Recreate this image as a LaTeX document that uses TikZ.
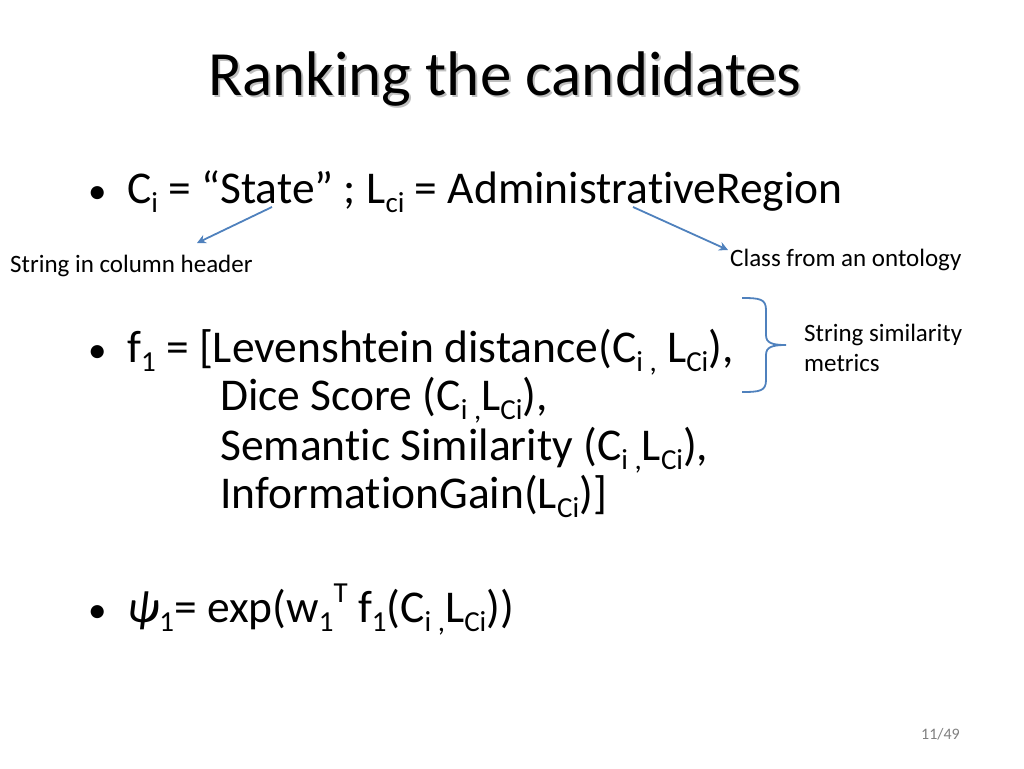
\documentclass[tikz,border=0pt]{standalone}
\usepackage{fontspec}
\usetikzlibrary{arrows.meta}
\setmainfont[Ligatures=CommonOff]{Carlito}
\newcommand{\lsub}[1]{\raisebox{-0.45ex}{\fontsize{29}{29}\selectfont #1}}
\newcommand{\lsup}[1]{\raisebox{0.9ex}{\fontsize{29}{29}\selectfont #1}}
\begin{document}
\begin{tikzpicture}[x=1pt,y=-1pt,
  big/.style={anchor=base west,inner sep=0pt,font=\fontsize{45.5}{48}\selectfont},
  bul/.style={anchor=base west,inner sep=0pt,font=\fontsize{37}{40}\selectfont},
  small/.style={anchor=base west,inner sep=0pt,font=\fontsize{25}{30}\selectfont},
  blu/.style={draw={rgb,255:red,79;green,129;blue,189},line width=1.8pt},
  arr/.style={blu,-{Stealth[length=9pt,width=9pt]}}]
\useasboundingbox (0,0) rectangle (1024,768);
\node[anchor=base,inner sep=0pt,text=gray!50,font=\fontsize{63}{68}\selectfont] at (507,97) {Ranking the candidates};
\node[anchor=base,inner sep=0pt,font=\fontsize{63}{68}\selectfont] (title) at (505,95) {Ranking the candidates};
\node[bul] (b1) at (88,203) {•};
\node[big] (l1) at (127,203) {C\lsub{i} = “State” ; L\lsub{ci} = AdministrativeRegion};
\node[bul] (b2) at (88,362) {•};
\node[big] (l2) at (127,362) {f\lsub{1} = [Levenshtein distance(C\lsub{i ,} L\lsub{Ci}),};
\node[big] (l3) at (220,410) {Dice Score (C\lsub{i ,}L\lsub{Ci}),};
\node[big] (l4) at (220,460) {Semantic Similarity (C\lsub{i ,}L\lsub{Ci}),};
\node[big] (l5) at (220,508) {InformationGain(L\lsub{Ci})]};
\node[bul] (b3) at (88,622) {•};
\node[big] (l6) at (127,622) {\textit{ψ}\lsub{1}= exp(w\lsub{1}\lsup{T} f\lsub{1}(C\lsub{i ,}L\lsub{Ci}))};
\node[small] (s1) at (10,272) {String in column header};
\node[small] (s2) at (730,266) {Class from an ontology};
\node[small] (s3) at (804,341) {String similarity};
\node[small] (s4) at (804,371) {metrics};
\node[anchor=base west,inner sep=0pt,text=gray,font=\fontsize{16}{18}\selectfont] (pg) at (921,739) {11/49};
\coordinate (a1) at (272,207); \coordinate (a1e) at (197,243);
\coordinate (a2) at (633,207); \coordinate (a2e) at (728,250);
\draw[arr] (a1) -- (a1e);
\draw[arr] (a2) -- (a2e);
\draw[blu] (742,298) .. controls (760,298) and (766,299) .. (766,310) -- (766,335) .. controls (766,343) and (772,345) .. (786,345)
  .. controls (772,345) and (766,347) .. (766,355) -- (766,380) .. controls (766,391) and (760,392) .. (742,392);
\end{tikzpicture}
\end{document}
